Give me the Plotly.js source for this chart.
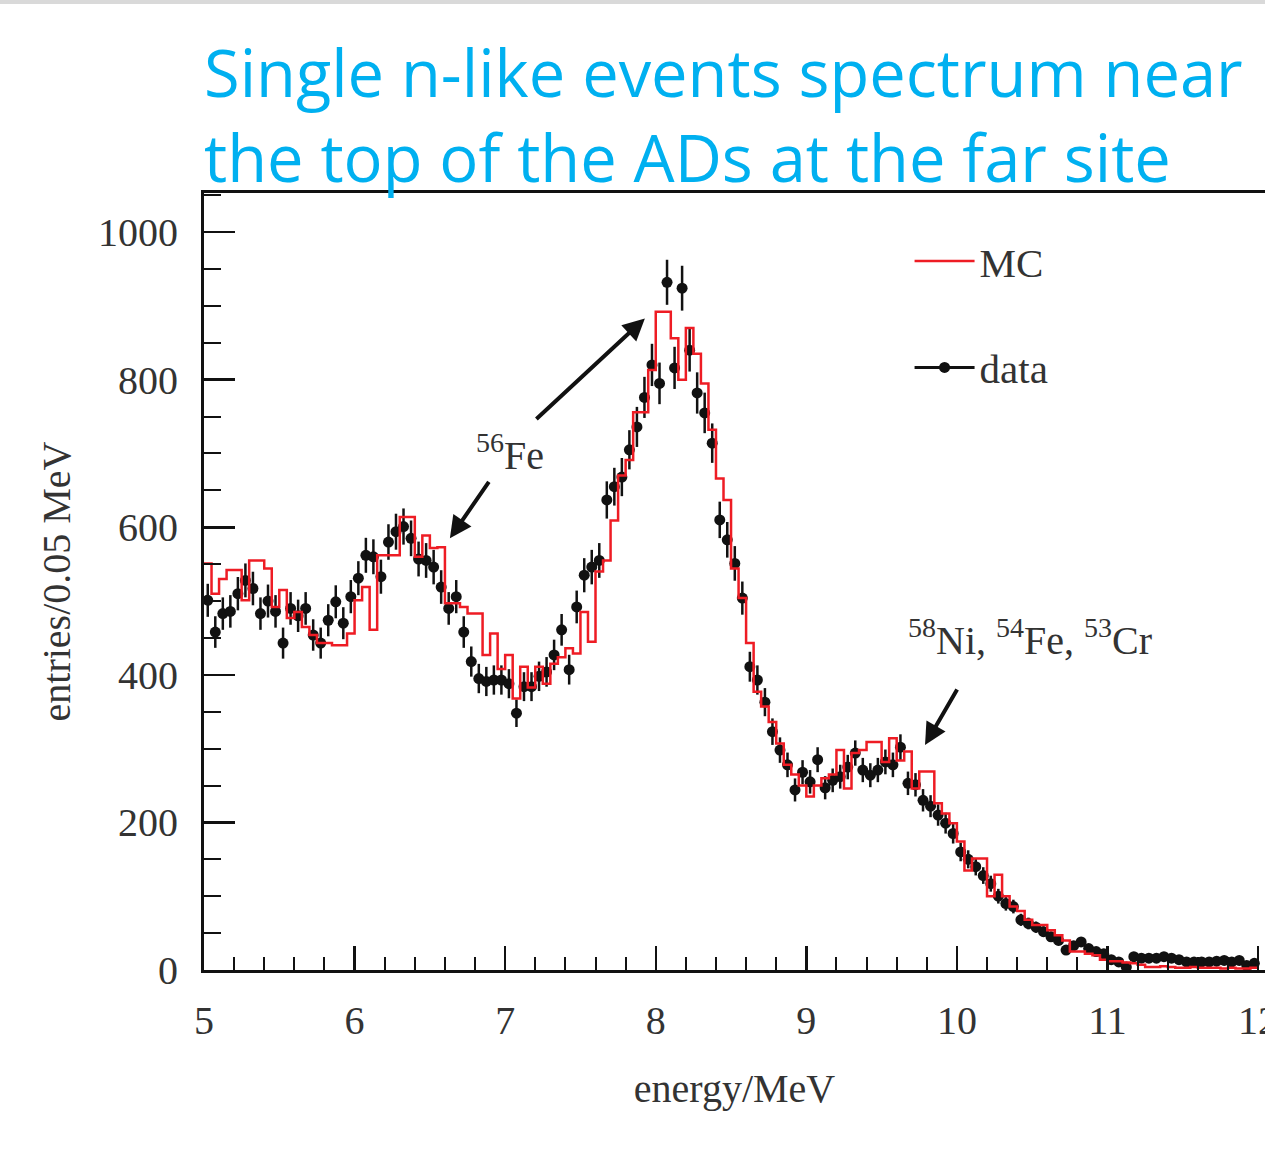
<!DOCTYPE html>
<html>
<head>
<meta charset="utf-8">
<script src="https://cdn.plot.ly/plotly-3.0.1.min.js"></script>
<style>html,body{margin:0;padding:0;background:#fff;overflow:hidden;}</style>
</head>
<body>
<div id="chart" style="width:1265px;height:1162px;"></div>
<script>
// Histogram binning: 0.05 MeV bins from 5 MeV
var binStart = 5.0;
var binWidth = 0.05;

// MC histogram contents (entries per 0.05 MeV bin)
var mcValues = [
 551,510,530,542,542,501,555,555,544,492,
 515,477,485,465,454,443,443,440,440,456,
 501,519,461,562,562,562,614,614,560,589,
 572,573,497,497,492,483,483,427,456,408,
 427,368,411,383,411,388,415,424,436,429,
 485,445,540,555,609,670,691,756,756,813,
 892,892,856,800,870,835,795,732,666,637,
 544,504,443,377,357,336,307,278,265,250,
 235,250,260,265,298,246,294,298,309,309,
 282,314,284,296,246,269,269,226,212,199,
 174,135,151,151,100,129,100,86,80,68,
 61,61,54,47,40,25,25,22,20,14,
 12,12,10,9,7,4,4,5,4,3,
 3,4,3,3,3,2,3,2,2,3
];

// Measured data (entries per 0.05 MeV bin)
var dataValues = [
 501,458,483,486,510,528,517,483,500,486,
 443,490,480,490,454,443,474,499,470,506,
 531,562,560,533,580,594,601,585,557,555,
 546,519,490,506,458,418,395,391,393,393,
 388,348,384,384,398,404,427,461,407,492,
 535,546,555,637,655,668,705,736,776,820,
 795,932,816,924,840,782,755,714,610,583,
 551,504,411,393,363,323,298,278,244,268,
 255,285,247,257,262,275,294,271,264,271,
 282,278,302,253,251,230,222,210,199,185,
 160,150,140,128,117,100,90,86,68,63,
 58,52,45,40,27,33,38,29,25,22,
 14,11,4,18,16,16,16,18,16,14,
 11,11,11,11,12,13,11,13,6,9
];

var seriesNames = ['MC', 'data'];
var titleLines = ['Single n-like events spectrum near', 'the top of the ADs at the far site'];
var xTitle = 'energy/MeV';
var yTitle = 'entries/0.05 MeV';
var peakLabels = ['<sup>56</sup>Fe', '<sup>58</sup>Ni, <sup>54</sup>Fe, <sup>53</sup>Cr'];

// bin edges / centres from the binning
var mcX = [], mcY = [];
for (var i = 0; i < mcValues.length; i++) { mcX.push(binStart + i * binWidth); mcY.push(mcValues[i]); }
mcX.push(binStart + mcValues.length * binWidth); mcY.push(mcValues[mcValues.length - 1]);
var dataX = [];
for (var j = 0; j < dataValues.length; j++) dataX.push(binStart + (j + 0.5) * binWidth);

var serif = 'Liberation Serif, Times New Roman, serif';

var traces = [
  {
    type: 'scatter', mode: 'markers', x: dataX, y: dataValues, name: seriesNames[1],
    showlegend: false,
    marker: {color: '#111', size: 11},
    error_y: {type: 'sqrt', visible: true, color: '#111', thickness: 2.5, width: 0}
  },
  {
    type: 'scatter', mode: 'lines', x: mcX, y: mcY, name: seriesNames[0],
    line: {shape: 'hv', color: '#ee1c24', width: 2.5},
    legendgroup: 'g1', legendrank: 1
  },
  {
    type: 'scatter', mode: 'lines+markers', x: [null], y: [null], name: seriesNames[1],
    line: {color: '#111', width: 3}, marker: {color: '#111', size: 11},
    legendgroup: 'g2', legendrank: 2
  }
];

var arrowCommon = {showarrow: true, arrowhead: 2, arrowsize: 1.1, arrowwidth: 4, arrowcolor: '#111', text: '', xref: 'x', yref: 'y'};

var layout = {
  width: 1265, height: 1162,
  margin: {l: 204, r: 0, t: 193, b: 192, pad: 0},
  paper_bgcolor: '#fff', plot_bgcolor: '#fff',
  showlegend: true,
  title: {
    text: titleLines.join('<br>'),
    x: 204 / 1265, xanchor: 'left', xref: 'container',
    y: 1 - 97 / 1162, yanchor: 'top', yref: 'container',
    font: {family: 'Open Sans, Noto Sans, sans-serif', size: 65, color: '#00b0f0'}
  },
  xaxis: {
    range: [5, 12.046], showgrid: false, zeroline: false,
    showline: true, linewidth: 3, linecolor: '#111', mirror: true,
    ticks: 'inside', ticklen: 24, tickwidth: 2.5, tickcolor: '#111',
    tick0: 5, dtick: 1,
    minor: {ticks: 'inside', dtick: 0.2, ticklen: 13, tickwidth: 2, tickcolor: '#111', showgrid: false},
    tickfont: {family: serif, size: 40, color: '#333'},
    ticklabelstandoff: 13, ticklabeloverflow: 'allow',
    title: {text: xTitle, font: {family: serif, size: 40, color: '#333'}}
  },
  yaxis: {
    range: [0, 1053], showgrid: false, zeroline: false,
    showline: true, linewidth: 3, linecolor: '#111', mirror: false,
    ticks: 'inside', ticklen: 31, tickwidth: 2.5, tickcolor: '#111',
    tick0: 0, dtick: 200,
    minor: {ticks: 'inside', dtick: 50, ticklen: 17, tickwidth: 2, tickcolor: '#111', showgrid: false},
    tickfont: {family: serif, size: 40, color: '#333'},
    ticklabelstandoff: 15, automargin: true,
    title: {text: yTitle, font: {family: serif, size: 40, color: '#333'}, standoff: 16}
  },
  legend: {
    x: 0.665, y: 0.955, xanchor: 'left', yanchor: 'top',
    bgcolor: 'rgba(0,0,0,0)', borderwidth: 0,
    font: {family: serif, size: 41, color: '#333'},
    itemwidth: 60, tracegroupgap: 50, traceorder: 'grouped'
  },
  shapes: [
    {type: 'rect', xref: 'paper', yref: 'paper', x0: -204 / 1061, x1: 1.01,
     y0: (970 - 4) / 777, y1: 970 / 777, fillcolor: '#d9d9d9', line: {width: 0}, layer: 'below'}
  ],
  annotations: [
    Object.assign({}, arrowCommon, {x: 7.928, y: 883, ax: -110, ay: 102}),
    Object.assign({}, arrowCommon, {x: 6.633, y: 585, ax: 40, ay: -58}),
    Object.assign({}, arrowCommon, {x: 9.788, y: 305, ax: 33, ay: -57}),
    {x: 7.032, y: 702, xref: 'x', yref: 'y', text: peakLabels[0], showarrow: false,
     font: {family: serif, size: 40, color: '#333'}},
    {x: 10.485, y: 450, xref: 'x', yref: 'y', text: peakLabels[1], showarrow: false,
     font: {family: serif, size: 40, color: '#333'}}
  ]
};

Plotly.newPlot('chart', traces, layout, {displayModeBar: false, staticPlot: true});
</script>
</body>
</html>
